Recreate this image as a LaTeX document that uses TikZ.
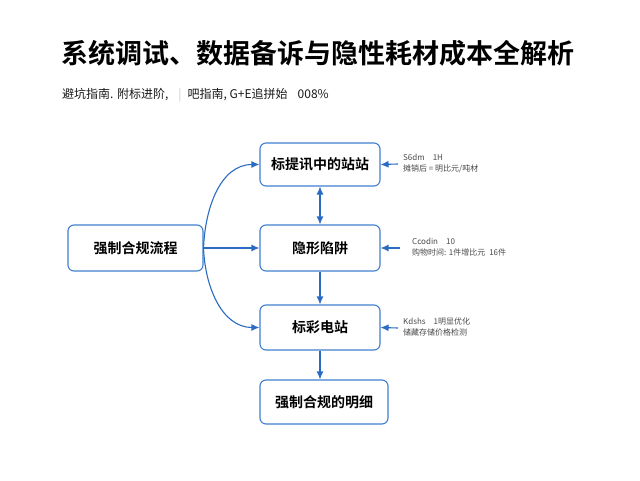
\documentclass[tikz,border=0pt]{standalone}
\usepackage{fontspec}
\newfontfamily\cjk{Noto Sans CJK SC}
\newfontfamily\cjkb{Noto Sans CJK SC Bold}
\usetikzlibrary{arrows.meta}
\definecolor{boxblue}{HTML}{3F7FD0}
\definecolor{arrblue}{HTML}{2A6CC4}
\definecolor{notegray}{HTML}{4A4A4A}
\tikzset{
  box/.style={draw=boxblue, line width=1.1pt, rounded corners=6pt, fill=white,
    minimum height=46pt, font=\cjkb\fontsize{14}{16}\selectfont, text=black, inner sep=0pt},
  conn/.style={draw=arrblue, line width=1.1pt, -{Latex[length=8pt,width=7pt]}},
  dconn/.style={draw=arrblue, line width=1.1pt, {Latex[length=8pt,width=7pt]}-{Latex[length=8pt,width=7pt]}},
  note/.style={font=\cjk\fontsize{8}{11}\selectfont, text=notegray, align=left, anchor=west, inner sep=0pt}
}
\begin{document}
\begin{tikzpicture}[x=1pt,y=-1pt]
\useasboundingbox (0,0) rectangle (640,480);
\fill[white] (0,0) rectangle (640,480);
\node[anchor=west, inner sep=0pt, font=\cjkb\fontsize{27}{30}\selectfont] (title) at (61,53) {系统调试、数据备诉与隐性耗材成本全解析};
\node[anchor=west, inner sep=0pt, font=\cjk\fontsize{12}{14}\selectfont, text=black!90] (sub) at (62,95) {避坑指南. 附标进阶,\hspace{10pt}{\color{black!20}|}\hspace{6pt}吧指南, G+E追拼始\hspace{10pt}008\%};

\node[box, minimum width=135pt] (L) at (135.5,248) {强制合规流程};
\node[box, minimum width=120pt, minimum height=43pt] (B1) at (320,164.5) {标提讯中的站站};
\node[box, minimum width=120pt] (B2) at (320,248) {隐形陷阱};
\node[box, minimum width=120pt, minimum height=45pt] (B3) at (320,327.5) {标彩电站};
\node[box, minimum width=128pt, minimum height=44pt] (B4) at (324,402) {强制合规的明细};

\draw[conn] (L.east) to[out=88,in=180] (B1.west);
\draw[conn] (L.east) -- (B2.west);
\draw[conn] (L.east) to[out=-88,in=180] (B3.west);

\draw[dconn] (B1.south) -- (B2.north);
\draw[conn] (B2.south) -- (B3.north);
\draw[conn] (B3.south) -- (B3.south |- B4.north);

\coordinate (n1) at (398,164);
\coordinate (n2) at (400,248);
\coordinate (n3) at (398,328);
\draw[conn] (n1) -- (B1.east);
\draw[conn] (n2) -- (B2.east);
\draw[conn] (n3) -- (B3.east);

\node[note] (t1) at (403,164) {S6dm\hspace{8pt}1H\\摊销后 = 明比元/吨材};
\node[note] (t2) at (412,247) {Ccodin\hspace{8pt}10\\购物时间: 1件增比元\hspace{4pt}16件};
\node[note] (t3) at (403,327) {Kdshs\hspace{8pt}1明显优化\\储藏存储价格检测};
\end{tikzpicture}
\end{document}
